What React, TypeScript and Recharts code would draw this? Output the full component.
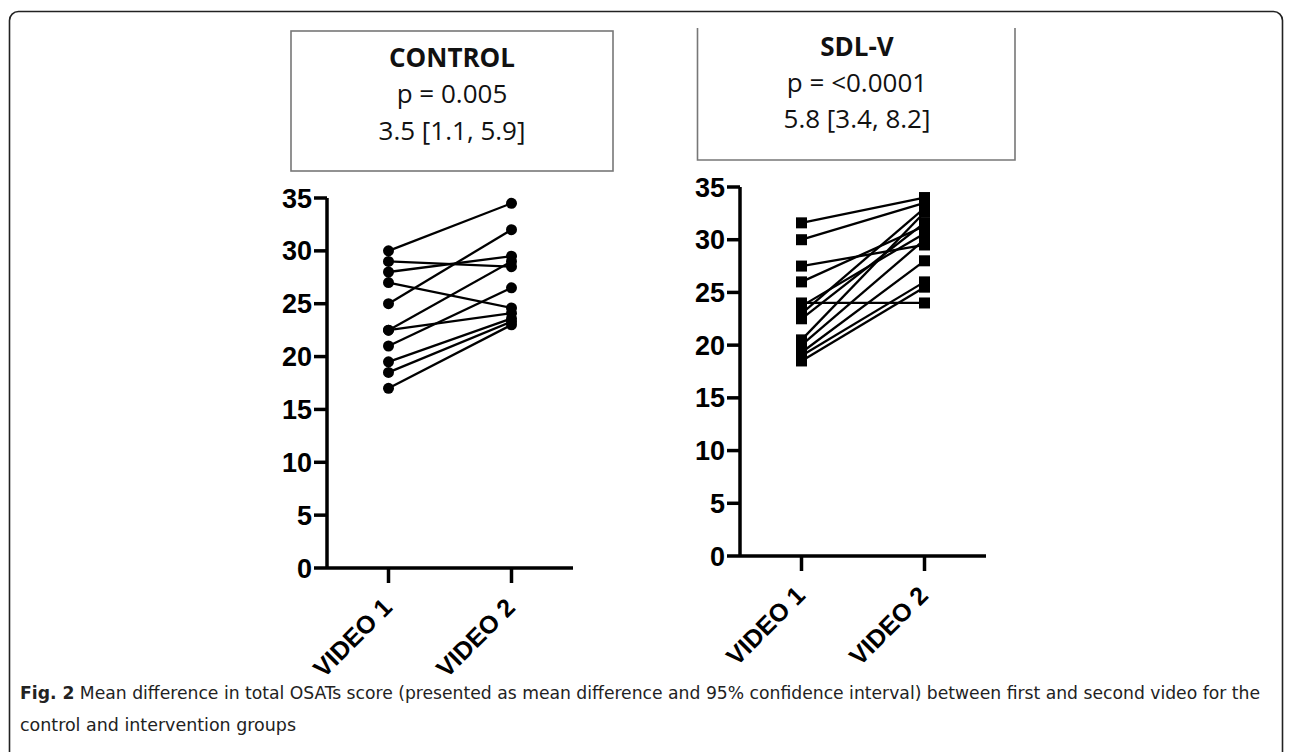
import React from "react";
import { LineChart, Line, XAxis, YAxis } from "recharts";

// ---- data ----
const categories = ["VIDEO 1", "VIDEO 2"];
const yTicks = [0, 5, 10, 15, 20, 25, 30, 35];

const controlVideo1 = [30, 29, 28, 27, 25, 22.5, 22.5, 21, 19.5, 18.5, 17];
const controlVideo2 = [34.5, 28.5, 29.5, 24.6, 32, 29, 24.1, 26.5, 23.6, 23.3, 23];

const sdlVideo1 = [31.6, 30, 27.5, 26, 24, 23.7, 23, 22.5, 20.5, 20, 19.3, 19, 18.5];
const sdlVideo2 = [34, 33.5, 29.5, 31.3, 24, 30.6, 33, 31.6, 32.6, 30, 28, 26, 25.5];

const controlTitle = ["CONTROL", "p = 0.005", "3.5 [1.1, 5.9]"];
const sdlTitle = ["SDL-V", "p = <0.0001", "5.8 [3.4, 8.2]"];
const captionBold = "Fig. 2";
const captionLine1 =
  " Mean difference in total OSATs score (presented as mean difference and 95% confidence interval) between first and second video for the";
const captionLine2 = "control and intervention groups";

function buildRows(v1: number[], v2: number[]) {
  const r1: any = { x: 1 };
  const r2: any = { x: 2 };
  v1.forEach((v, i) => (r1[`s${i}`] = v));
  v2.forEach((v, i) => (r2[`s${i}`] = v));
  return [r1, r2];
}

const AXIS_FONT = "'Liberation Sans', Arial, sans-serif";

const XTick = (props: any) => {
  const { x, y, payload } = props;
  const label = categories[Math.round(payload.value) - 1] ?? "";
  return (
    <g transform={`translate(${x},${y})`}>
      <text
        transform="translate(5,24) rotate(-45)"
        textAnchor="end"
        fontFamily={AXIS_FONT}
        fontWeight="bold"
        fontSize={25}
        fill="#000"
      >
        {label}
      </text>
    </g>
  );
};

const CircleDot = (props: any) => {
  const { cx, cy, index, dataKey } = props;
  if (cx == null || cy == null) return <g key={`${dataKey}-${index}`} />;
  return <circle key={`${dataKey}-${index}`} cx={cx} cy={cy} r={5.5} fill="#000" />;
};

const SquareDot = (props: any) => {
  const { cx, cy, index, dataKey } = props;
  if (cx == null || cy == null) return <g key={`${dataKey}-${index}`} />;
  return <rect key={`${dataKey}-${index}`} x={cx - 5.5} y={cy - 5.5} width={11} height={11} fill="#000" />;
};

const PAD_LEFT = 40;
const Y_W = 60;
const PLOT_W = 246;
const PAD_RIGHT = 20;
const PAD_TOP = 20;
const X_H = 150;

function Panel(props: {
  v1: number[];
  v2: number[];
  dot: any;
  axisX: number;
  axisTop: number;
  plotH: number;
}) {
  const { v1, v2, dot, axisX, axisTop, plotH } = props;
  const rows = buildRows(v1, v2);
  const width = PAD_LEFT + Y_W + PLOT_W + PAD_RIGHT;
  const height = PAD_TOP + plotH + X_H;
  const left = axisX - PAD_LEFT - Y_W;
  const top = axisTop - PAD_TOP;
  return (
    <div style={{ position: "absolute", left, top, width, height }}>
      <LineChart
        width={width}
        height={height}
        data={rows}
        margin={{ top: PAD_TOP, right: PAD_RIGHT, bottom: 0, left: PAD_LEFT }}
      >
        <XAxis
          type="number"
          dataKey="x"
          domain={[0.5, 2.5]}
          ticks={[1, 2]}
          interval={0}
          height={X_H}
          tickSize={15}
          tick={<XTick />}
          axisLine={{ stroke: "#000", strokeWidth: 3.5 }}
          tickLine={{ stroke: "#000", strokeWidth: 3.5 }}
        />
        <YAxis
          type="number"
          domain={[0, 35]}
          ticks={yTicks}
          interval={0}
          width={Y_W}
          tickSize={13}
          tickMargin={2}
          axisLine={{ stroke: "#000", strokeWidth: 3.5 }}
          tickLine={{ stroke: "#000", strokeWidth: 3.5 }}
          tick={{ fill: "#000", fontSize: 27, fontWeight: "bold", fontFamily: AXIS_FONT }}
        />
        {v1.map((_, i) => (
          <Line
            key={i}
            type="linear"
            dataKey={`s${i}`}
            stroke="#000"
            strokeWidth={2.3}
            dot={dot}
            activeDot={false}
            isAnimationActive={false}
          />
        ))}
      </LineChart>
    </div>
  );
}

const BOX_FONT = "'Open Sans', 'Noto Sans', sans-serif";

export default function App() {
  return (
    <div
      style={{
        position: "absolute",
        left: 0,
        top: 0,
        width: 1292,
        height: 752,
        background: "#fff",
        overflow: "hidden",
      }}
    >
      <svg width={1292} height={752} style={{ position: "absolute", left: 0, top: 0 }}>
        {/* outer frame */}
        <rect x={9.5} y={11.5} width={1273} height={780} rx={9} fill="none" stroke="#222" strokeWidth={1.6} />
        {/* control box */}
        <rect x={291} y={31} width={322} height={140} fill="none" stroke="#777" strokeWidth={1.6} />
        <text x={452} y={67} textAnchor="middle" fontFamily={BOX_FONT} fontWeight="bold" fontSize={26} fill="#111">
          {controlTitle[0]}
        </text>
        <text x={452} y={103} textAnchor="middle" fontFamily={BOX_FONT} fontSize={26} fill="#111">
          {controlTitle[1]}
        </text>
        <text x={452} y={140} textAnchor="middle" fontFamily={BOX_FONT} fontSize={26} fill="#111">
          {controlTitle[2]}
        </text>
        {/* SDL-V box (top edge not shown) */}
        <path d="M697.5,28 L697.5,160 L1015,160 L1015,28" fill="none" stroke="#777" strokeWidth={1.6} />
        <text x={857} y={56} textAnchor="middle" fontFamily={BOX_FONT} fontWeight="bold" fontSize={26} fill="#111">
          {sdlTitle[0]}
        </text>
        <text x={857} y={92} textAnchor="middle" fontFamily={BOX_FONT} fontSize={26} fill="#111">
          {sdlTitle[1]}
        </text>
        <text x={857} y={128} textAnchor="middle" fontFamily={BOX_FONT} fontSize={26} fill="#111">
          {sdlTitle[2]}
        </text>
      </svg>
      <Panel v1={controlVideo1} v2={controlVideo2} dot={<CircleDot />} axisX={327} axisTop={198} plotH={370} />
      <Panel v1={sdlVideo1} v2={sdlVideo2} dot={<SquareDot />} axisX={740} axisTop={187} plotH={369} />
      <svg width={1292} height={752} style={{ position: "absolute", left: 0, top: 0, pointerEvents: "none" }}>
        {/* caption */}
        <text
          x={20}
          y={699}
          fontFamily="'DejaVu Sans Condensed', 'Liberation Sans Narrow', sans-serif"
          fontSize={18}
          fill="#222"
          textLength={1240}
          lengthAdjust="spacingAndGlyphs"
        >
          <tspan fontWeight="bold">{captionBold}</tspan>
          <tspan>{captionLine1}</tspan>
        </text>
        <text
          x={20}
          y={731}
          fontFamily="'DejaVu Sans Condensed', 'Liberation Sans Narrow', sans-serif"
          fontSize={18}
          fill="#222"
          textLength={276}
          lengthAdjust="spacingAndGlyphs"
        >
          {captionLine2}
        </text>
      </svg>
    </div>
  );
}
